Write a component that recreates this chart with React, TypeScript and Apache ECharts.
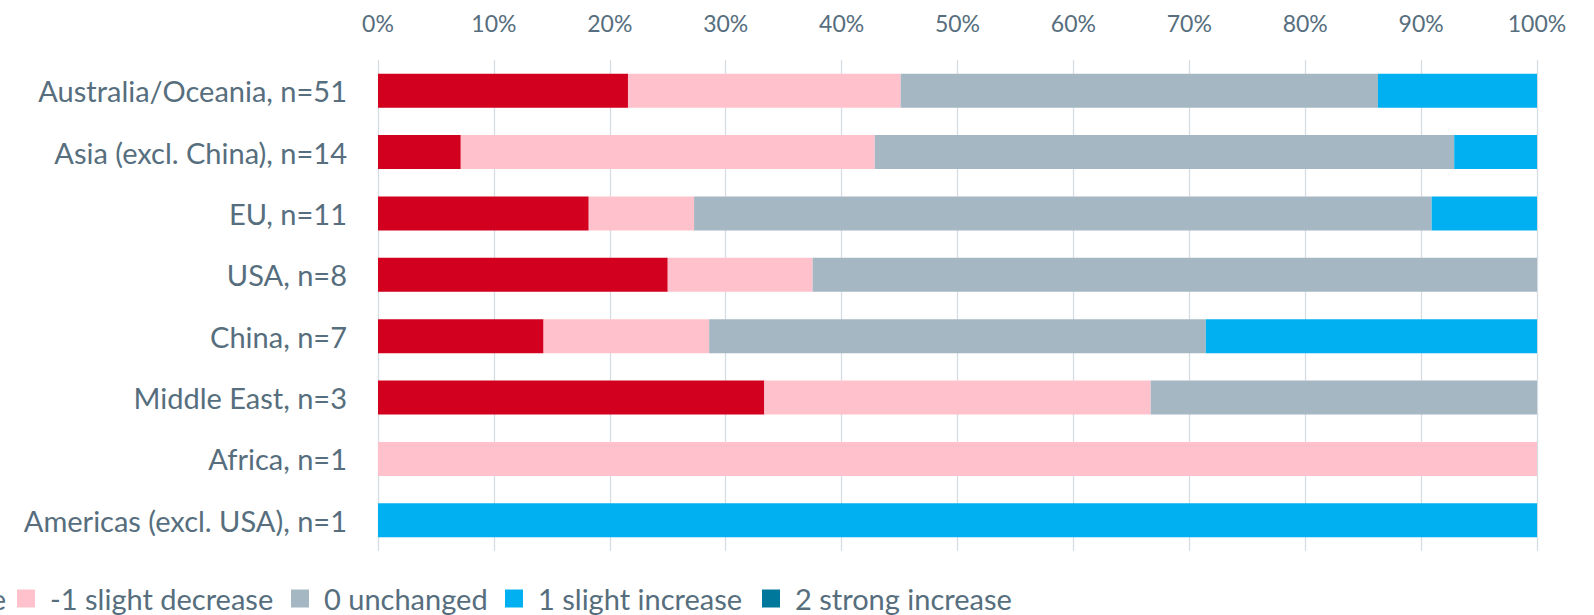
import React, { useEffect, useRef } from "react";
import * as echarts from "echarts";

const categories = [
  "Australia/Oceania, n=51",
  "Asia (excl. China), n=14",
  "EU, n=11",
  "USA, n=8",
  "China, n=7",
  "Middle East, n=3",
  "Africa, n=1",
  "Americas (excl. USA), n=1",
];
const totals = [51, 14, 11, 8, 7, 3, 1, 1];
const strongDecrease = [11, 1, 2, 2, 1, 1, 0, 0];
const slightDecrease = [12, 5, 1, 1, 1, 1, 1, 0];
const unchanged = [21, 7, 7, 5, 3, 1, 0, 0];
const slightIncrease = [7, 1, 1, 0, 2, 0, 0, 1];
const strongIncrease = [0, 0, 0, 0, 0, 0, 0, 0];

const seriesNames = [
  "-2 strong decrease",
  "-1 slight decrease",
  "0 unchanged",
  "1 slight increase",
  "2 strong increase",
];
const seriesCounts = [strongDecrease, slightDecrease, unchanged, slightIncrease, strongIncrease];
const seriesColors = ["#D2001E", "#FFC2CC", "#A5B7C3", "#00B0F0", "#00789C"];
const legendLefts = [-263, 17, 291, 505, 762];
const xTicks = [0, 10, 20, 30, 40, 50, 60, 70, 80, 90, 100];

const FONT = "Lato";
const TEXT = "#566E7D";
const LABEL_SIZE = 29;

export default function App() {
  const ref = useRef<HTMLDivElement>(null);
  useEffect(() => {
    document.body.style.margin = "0";
    const chart = echarts.init(ref.current!, null, { renderer: "svg" });
    chart.setOption({
      animation: false,
      textStyle: { fontFamily: FONT },
      grid: { left: 378, right: 57, top: 60, bottom: 64 },
      legend: seriesNames.map((name, i) => ({
        left: legendLefts[i],
        top: 584,
        padding: 0,
        itemWidth: 18,
        itemHeight: 18,
        icon: "rect",
        data: [name],
        formatter: (n: string) => `{t|${n}}`,
        textStyle: {
          fontFamily: FONT,
          fontSize: LABEL_SIZE,
          color: TEXT,
          rich: {
            t: {
              padding: [0, 0, 0, 10],
              fontFamily: FONT,
              fontSize: LABEL_SIZE,
              color: TEXT,
            },
          },
        },
      })),
      xAxis: {
        type: "value",
        position: "top",
        min: xTicks[0],
        max: xTicks[xTicks.length - 1],
        interval: xTicks[1] - xTicks[0],
        axisLine: { show: false },
        axisTick: { show: false },
        axisLabel: {
          formatter: "{value}%",
          fontFamily: FONT,
          fontSize: 23,
          color: TEXT,
          margin: 26,
        },
        splitLine: { show: true, lineStyle: { color: "#D5DCE2", width: 1.3 } },
      },
      yAxis: {
        type: "category",
        inverse: true,
        data: categories,
        axisLine: { show: false },
        axisTick: { show: false },
        axisLabel: {
          fontFamily: FONT,
          fontSize: LABEL_SIZE,
          color: TEXT,
          margin: 31,
        },
      },
      series: seriesNames.map((name, i) => ({
        name,
        type: "bar",
        stack: "total",
        barWidth: 34,
        itemStyle: { color: seriesColors[i] },
        data: seriesCounts[i].map((v, j) => (v / totals[j]) * 100),
      })),
    });
    return () => chart.dispose();
  }, []);
  return <div ref={ref} style={{ width: 1594, height: 615 }} />;
}
